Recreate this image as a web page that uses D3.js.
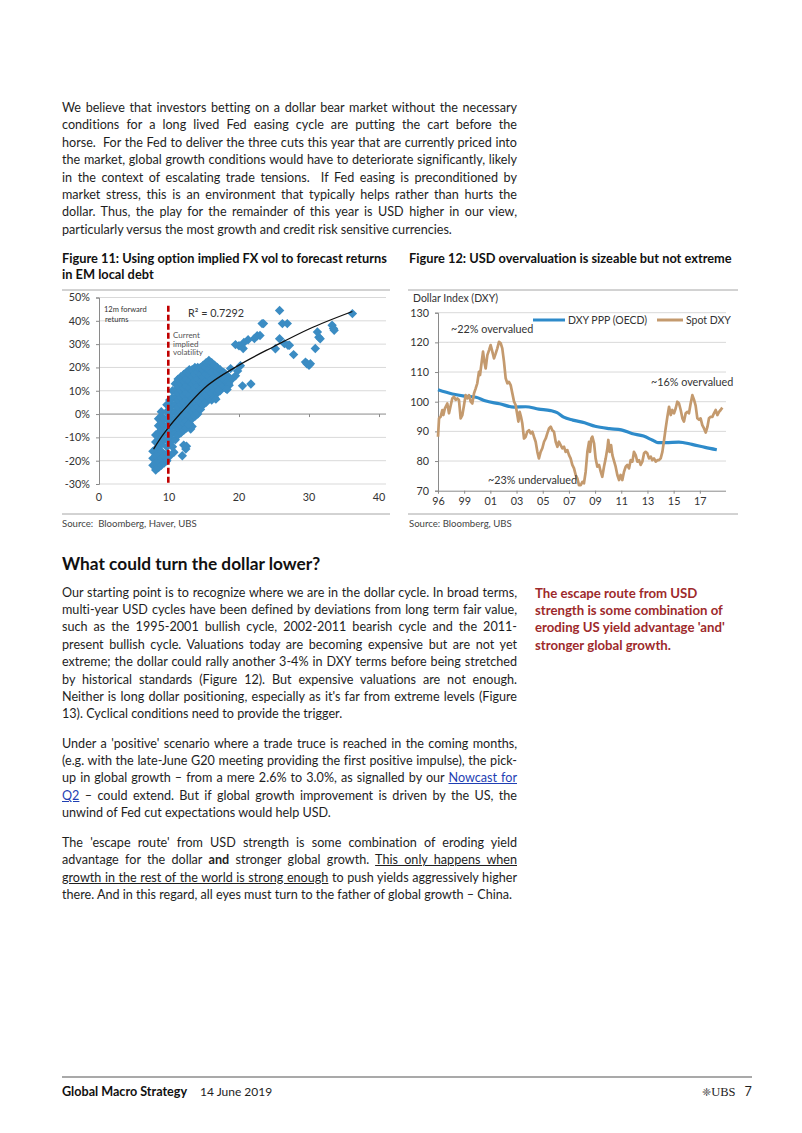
<!DOCTYPE html>
<html><head><meta charset="utf-8">
<script src="https://cdnjs.cloudflare.com/ajax/libs/d3/7.8.5/d3.min.js"></script>
<style>
html,body{margin:0;padding:0;background:#fff;}
#page{position:relative;width:802px;height:1133px;overflow:hidden;font-family:Lato,'Open Sans',sans-serif;color:#1e1e1e;font-variant-ligatures:none;}
.ln{position:absolute;left:62px;width:455px;height:18px;line-height:18px;font-size:12.6px;white-space:nowrap;text-align:justify;text-align-last:justify;}
.ln.last{text-align-last:left;}
.side{position:absolute;left:535px;height:18px;line-height:18px;font-size:13.2px;font-weight:bold;color:#9e2a2b;white-space:nowrap;}
.ttl{position:absolute;height:16px;line-height:16px;font-size:12.8px;font-weight:bold;color:#111;white-space:nowrap;}
.src{position:absolute;font-size:9.6px;color:#444;white-space:pre;line-height:12px;}
a{color:#1f3fb3;text-decoration:underline;}
svg{position:absolute;left:0;top:0;}
svg text{font-family:Lato,'Open Sans',sans-serif;font-variant-ligatures:none;}
</style></head>
<body><div id="page"></div>
<script>
// ---------- TEXT ----------
const para1 = [
 "We believe that investors betting on a dollar bear market without the necessary",
 "conditions for a long lived Fed easing cycle are putting the cart before the",
 "horse.&nbsp; For the Fed to deliver the three cuts this year that are currently priced into",
 "the market, global growth conditions would have to deteriorate significantly, likely",
 "in the context of escalating trade tensions.&nbsp; If Fed easing is preconditioned by",
 "market stress, this is an environment that typically helps rather than hurts the",
 "dollar. Thus, the play for the remainder of this year is USD higher in our view,",
 "particularly versus the most growth and credit risk sensitive currencies."
];
const para2 = [
 "Our starting point is to recognize where we are in the dollar cycle. In broad terms,",
 "multi-year USD cycles have been defined by deviations from long term fair value,",
 "such as the 1995-2001 bullish cycle, 2002-2011 bearish cycle and the 2011-",
 "present bullish cycle. Valuations today are becoming expensive but are not yet",
 "extreme; the dollar could rally another 3-4% in DXY terms before being stretched",
 "by historical standards (Figure 12). But expensive valuations are not enough.",
 "Neither is long dollar positioning, especially as it's far from extreme levels (Figure",
 "13). Cyclical conditions need to provide the trigger."
];
const para3 = [
 "Under a 'positive' scenario where a trade truce is reached in the coming months,",
 "(e.g. with the late-June G20 meeting providing the first positive impulse), the pick-",
 "up in global growth – from a mere 2.6% to 3.0%, as signalled by our <a>Nowcast for</a>",
 "<a>Q2</a> – could extend. But if global growth improvement is driven by the US, the",
 "unwind of Fed cut expectations would help USD."
];
const para4 = [
 "The 'escape route' from USD strength is some combination of eroding yield",
 "advantage for the dollar <b>and</b> stronger global growth. <u>This only happens when</u>",
 "<u>growth in the rest of the world is strong enough</u> to push yields aggressively higher",
 "there. And in this regard, all eyes must turn to the father of global growth – China."
];
const sideNote = ["The escape route from USD","strength is some combination of","eroding US yield advantage 'and'","stronger global growth."];

// ---------- CHART DATA ----------
// Figure 11: implied vol (x) vs 12m forward returns (%)
const scatterCols = [
 [7.7,[-22,-19,-16]],
 [8.1,[-24,-21,-18,-15,-12,-9]],
 [8.5,[-23,-20,-17,-14,-11,-8,-5,-2]],
 [8.9,[-22,-19,-16,-13,-10,-7,-4,-1,1]],
 [9.3,[-21,-18,-11,-8,-5,-2]],
 [9.7,[-20,-17,-14,-11,-8,-5,-2,1,4]],
 [10.1,[-18,-12,-9,-6,-3,0,3,6]],
 [10.5,[-14,-11,-8,-5,-2,1,4,7,10]],
 [10.9,[-11,-8,-5,-2,1,4,7,10,13]],
 [11.3,[-9,-6,-3,0,3,6,9,12,15]],
 [11.7,[-8,-5,-2,1,4,7,10,13,16]],
 [12.1,[-7,-4,-1,2,5,8,11,14,17]],
 [12.5,[-6,-3,0,3,6,9,12,15,18]],
 [12.9,[-4,-1,2,5,8,11,14,17,19]],
 [13.3,[-2,1,4,7,10,13,16,19]],
 [13.7,[-1,2,5,8,11,14,17,20]],
 [14.1,[0,3,6,9,12,15,18,20]],
 [14.5,[2,5,8,11,14,17,20]],
 [14.9,[4,7,10,13,16,19,21]],
 [15.3,[5,8,11,14,17,20,22]],
 [15.7,[7,10,13,16,19,22,23]],
 [16.1,[6,9,12,15,18,21,22]],
 [16.5,[7,10,13,16,19,21]],
 [16.9,[9,12,15,18,20]],
 [17.3,[10,13,16,19]],
 [17.7,[12,15,18]],
 [18.1,[11,14,17]],
 [18.5,[13,16]]
];
const scatterOutliers = [
 [25.8,44.4],[36.2,43.1],[23.5,38.8],[23.3,38.8],[26.2,38.8],[26.9,38.8],[22.6,33.6],[23.0,33.7],[22.2,32.4],
 [21.3,31.9],[20.7,30.7],[20.0,29.3],[19.5,29.8],[20.6,28.1],[25.8,32.3],[25.2,28.0],[26.5,30.2],[27.0,29.5],
 [27.2,29.5],[27.8,25.5],[30.9,28.1],[31.2,35.2],[31.4,33.0],[31.6,32.3],[33.3,38.1],[33.5,36.7],[33.6,35.9],
 [29.5,22.3],[30.0,20.9],[30.2,21.6],[29.7,21.6],[20.2,20.7],[20.5,12.1],[21.7,12.9],[18.6,12.4],[19.0,15.0],
 [19.5,16.4],[17.9,17.6],[17.6,15.7],[17.1,10.0],[16.7,6.4],[18.3,10.5],[13.1,-6.4],[13.3,-5.3],[12.8,-4.5],
 [12.4,-15.0],[11.9,-17.9],[12.1,-13.3],[12.5,-13.8],[10.7,-16.4],[19.8,18.5],[18.8,19.5]
];
const trendLine = [[7.8,-15],[9,-9.5],[10,-5.5],[12,1.5],[15,11],[20,21],[25,29],[30,36.5],[36.2,44]];
const currentVol = 9.9;
const scatterYTicks = [-30,-20,-10,0,10,20,30,40,50];
const scatterXTicks = [0,10,20,30,40];

// Figure 12: Dollar index
const pppDXY = [
 [1997.0,104.0],[1998.1,102.6],[1999.0,101.9],[1999.9,101.5],[2000.6,100.3],[2001.7,99.3],[2002.8,98.2],
 [2003.7,98.3],[2004.7,97.5],[2005.6,97.0],[2006.1,96.3],[2006.6,94.8],[2007.3,93.8],[2008.2,92.9],
 [2009.0,91.7],[2010.1,90.9],[2011.0,90.5],[2011.8,89.3],[2012.7,88.4],[2013.4,87.0],[2013.8,86.2],
 [2014.4,86.2],[2015.4,86.4],[2016.4,85.6],[2017.4,84.6],[2018.3,83.8]
];
const spotDXY = [
 [1997.00,88.2],[1997.08,94.4],[1997.20,94.9],[1997.33,97.2],[1997.41,95.5],[1997.53,97.8],[1997.71,99.4],
 [1997.84,96.1],[1997.97,98.7],[1998.09,101.1],[1998.22,101.7],[1998.35,100.6],[1998.48,101.1],[1998.60,100.6],
 [1998.73,94.4],[1998.86,95.5],[1998.99,98.9],[1999.11,102.2],[1999.24,101.1],[1999.37,102.2],[1999.50,100.0],
 [1999.62,99.4],[1999.75,102.8],[1999.88,104.5],[2000.00,106.2],[2000.13,110.1],[2000.21,109.0],[2000.34,113.5],
 [2000.44,116.9],[2000.54,113.5],[2000.64,111.2],[2000.77,115.7],[2000.90,117.4],[2001.02,119.1],[2001.15,116.9],
 [2001.28,114.6],[2001.41,116.3],[2001.53,118.0],[2001.66,120.2],[2001.79,119.7],[2001.91,118.0],[2002.04,113.5],
 [2002.17,107.9],[2002.30,106.2],[2002.42,106.7],[2002.55,105.6],[2002.68,102.8],[2002.81,100.0],[2002.93,98.9],
 [2003.06,95.5],[2003.14,93.3],[2003.24,96.6],[2003.34,94.9],[2003.44,92.7],[2003.57,87.6],[2003.70,88.2],
 [2003.82,89.9],[2003.95,90.4],[2004.08,89.3],[2004.21,89.9],[2004.33,88.2],[2004.46,86.5],[2004.59,83.1],
 [2004.71,80.9],[2004.84,83.1],[2004.97,84.3],[2005.10,86.5],[2005.23,87.6],[2005.35,89.3],[2005.48,91.0],
 [2005.61,91.6],[2005.73,90.4],[2005.86,89.9],[2005.99,86.5],[2006.12,84.8],[2006.24,86.5],[2006.37,85.4],
 [2006.50,84.3],[2006.63,84.8],[2006.75,83.1],[2006.88,83.7],[2007.01,82.0],[2007.13,80.9],[2007.26,78.7],
 [2007.39,77.5],[2007.52,75.3],[2007.64,74.2],[2007.77,71.9],[2007.90,71.9],[2008.03,73.0],[2008.15,72.5],
 [2008.28,76.4],[2008.41,83.1],[2008.54,86.5],[2008.61,83.1],[2008.71,87.6],[2008.79,88.2],[2008.92,86.0],
 [2009.04,80.9],[2009.17,78.1],[2009.30,78.7],[2009.43,76.4],[2009.55,74.7],[2009.68,78.1],[2009.81,80.9],
 [2009.94,84.3],[2010.01,87.1],[2010.11,83.1],[2010.22,85.4],[2010.32,82.0],[2010.45,80.0],[2010.57,78.1],
 [2010.70,75.3],[2010.83,73.6],[2010.95,75.3],[2011.08,73.6],[2011.21,76.4],[2011.34,78.1],[2011.46,78.7],
 [2011.59,77.5],[2011.72,80.3],[2011.85,79.8],[2011.97,83.1],[2012.10,82.0],[2012.23,79.8],[2012.36,80.3],
 [2012.48,78.7],[2012.61,79.8],[2012.74,82.6],[2012.86,83.1],[2012.99,82.6],[2013.12,80.9],[2013.25,81.5],
 [2013.37,80.3],[2013.50,80.9],[2013.63,79.8],[2013.76,80.3],[2013.88,80.3],[2014.01,80.9],[2014.14,83.1],
 [2014.27,87.1],[2014.39,91.0],[2014.52,94.9],[2014.65,98.3],[2014.78,95.5],[2014.90,97.2],[2015.03,96.1],
 [2015.16,97.8],[2015.28,100.0],[2015.41,99.4],[2015.54,97.2],[2015.67,94.4],[2015.79,93.3],[2015.92,96.1],
 [2016.05,96.6],[2016.17,96.1],[2016.30,99.4],[2016.43,102.2],[2016.56,100.6],[2016.68,98.7],[2016.81,94.4],
 [2016.94,93.9],[2017.06,94.4],[2017.19,92.1],[2017.32,91.0],[2017.45,89.6],[2017.58,91.5],[2017.70,94.4],
 [2017.83,94.9],[2017.96,94.9],[2018.08,96.1],[2018.21,97.2],[2018.34,95.5],[2018.47,96.6],[2018.59,97.2],
 [2018.72,98.0]
];
const dxyYTicks = [70,80,90,100,110,120,130];
const dxyXTickYears = [1997,1999,2001,2003,2005,2007,2009,2011,2013,2015,2017];
const dxyXTickLabels = ["96","99","01","03","05","07","09","11","13","15","17"];
const seriesNames = ["DXY PPP (OECD)","Spot DXY"];
const seriesColors = ["#2e8bca","#c49a6e"];

// ---------- BUILD TEXT ----------
const page = d3.select('#page');
function addPara(lines, c0, step){
  lines.forEach((t,i)=>{
    const el = page.append('div').attr('class','ln'+(i===lines.length-1?' last':''))
      .style('top',(c0+i*step-9)+'px').html(t);
    const node = el.node();
    node.style.width='auto'; node.style.textAlignLast='left';
    const w = node.getBoundingClientRect().width;
    node.style.width=''; node.style.textAlignLast='';
    if (w > 455) node.style.letterSpacing = (-(w-455)/node.textContent.length).toFixed(3)+'px';
  });
}
addPara(para1,108,17.4);
addPara(para2,592.5,17.4);
addPara(para3,743.5,17.4);
addPara(para4,843,17.4);
sideNote.forEach((t,i)=>page.append('div').attr('class','side').style('top',(592.5+i*17.4-9)+'px').text(t));
page.append('div').style('position','absolute').style('left','62px').style('top','552px')
  .style('font-size','17.3px').style('font-weight','bold').style('color','#111').style('line-height','24px')
  .text('What could turn the dollar lower?');
page.append('div').attr('class','ttl').style('left','62px').style('top','250px').text('Figure 11: Using option implied FX vol to forecast returns');
page.append('div').attr('class','ttl').style('left','62px').style('top','266px').text('in EM local debt');
page.append('div').attr('class','ttl').style('left','409px').style('top','250px').text('Figure 12: USD overvaluation is sizeable but not extreme');
page.append('div').attr('class','src').style('left','62px').style('top','518px').text('Source:  Bloomberg, Haver, UBS');
page.append('div').attr('class','src').style('left','409px').style('top','518px').text('Source: Bloomberg, UBS');
// footer
page.append('div').style('position','absolute').style('left','62px').style('top','1084px').style('font-size','12.6px')
  .style('line-height','16px').style('white-space','nowrap')
  .html('<b style="color:#111">Global Macro Strategy</b><span style="position:absolute;left:138px;font-size:12px">14 June 2019</span>');
page.append('div').style('position','absolute').style('left','702px').style('top','1084px').style('font-size','12.6px')
  .style('line-height','16px').style('white-space','nowrap')
  .html('<span style="font-family:\'DejaVu Sans\';font-size:11px;color:#444">❈</span><span style="font-family:\'Liberation Serif\';font-size:12.5px;color:#222">UBS</span><span style="margin-left:9px">7</span>');

// ---------- SVG ----------
const svg = page.append('svg').attr('width',802).attr('height',1133);
[[62,390,290],[62,390,514],[408,738,290],[408,738,514]].forEach(r=>{
  svg.append('line').attr('x1',r[0]).attr('x2',r[1]).attr('y1',r[2]).attr('y2',r[2]).attr('stroke','#a6a6a6').attr('stroke-width',1);
});
svg.append('line').attr('x1',62).attr('x2',752).attr('y1',1077).attr('y2',1077).attr('stroke','#555').attr('stroke-width',1.2);

// ---- Figure 11 scatter ----
const gS = svg.append('g');
const xS = d3.scaleLinear().domain([0,40]).range([99,379]);
const yS = d3.scaleLinear().domain([-30,50]).range([484,297.5]);
gS.append('g').selectAll('line').data(scatterYTicks).join('line')
  .attr('x1',99).attr('x2',386).attr('y1',d=>yS(d)).attr('y2',d=>yS(d))
  .attr('stroke',d=>d===0?'#8a8a8a':'#d9d9d9').attr('stroke-width',1);
const yAxS = gS.append('g').attr('transform','translate(99,0)')
  .call(d3.axisLeft(yS).tickValues(scatterYTicks).tickFormat(d=>d+'%').tickSize(3).tickPadding(6));
yAxS.select('.domain').attr('stroke','#8a8a8a');
yAxS.selectAll('.tick line').attr('stroke','#8a8a8a');
yAxS.selectAll('text').attr('font-size',10.8).attr('fill','#333').attr('font-family','Lato, Open Sans, sans-serif');
const xAxS = gS.append('g').attr('transform',`translate(0,${yS(0)})`)
  .call(d3.axisBottom(xS).tickValues(scatterXTicks).tickFormat('').tickSize(3));
xAxS.select('.domain').remove();
xAxS.selectAll('.tick line').attr('stroke','#8a8a8a');
gS.append('g').selectAll('text').data(scatterXTicks).join('text')
  .attr('x',d=>xS(d)).attr('y',yS(-30)+17).attr('text-anchor','middle')
  .attr('font-size',10.8).attr('fill','#333').text(d=>d);
const scatterPts = scatterCols.flatMap(c=>c[1].map(v=>[c[0],v])).concat(scatterOutliers);
const diamond = d3.symbol(d3.symbolSquare, 44)();
gS.append('g').selectAll('path').data(scatterPts).join('path')
  .attr('d',diamond).attr('transform',d=>`translate(${xS(d[0])},${yS(d[1])}) rotate(45)`)
  .attr('fill','#3b8cc3');
gS.append('path').datum(trendLine)
  .attr('d',d3.line().x(d=>xS(d[0])).y(d=>yS(d[1])).curve(d3.curveMonotoneX))
  .attr('fill','none').attr('stroke','#111').attr('stroke-width',1.3);
gS.append('line').attr('x1',xS(currentVol)).attr('x2',xS(currentVol)).attr('y1',yS(46.5)).attr('y2',yS(-30))
  .attr('stroke','#c00000').attr('stroke-width',2.6).attr('stroke-dasharray','6,3');
gS.append('text').attr('x',104).attr('y',312).attr('font-size',7.5).attr('fill','#333').text('12m forward');
gS.append('text').attr('x',105).attr('y',322).attr('font-size',7.5).attr('fill','#333').text('returns');
gS.append('text').attr('x',188).attr('y',317).attr('font-size',10.8).attr('fill','#333').text('R² = 0.7292');
['Current','implied','volatility'].forEach((t,i)=>gS.append('text').attr('x',173).attr('y',338+i*8.6)
  .attr('font-size',8).attr('fill','#555').text(t));

// ---- Figure 12 lines ----
const gL = svg.append('g');
const xL = d3.scaleLinear().domain([1997,2019]).range([438,726]);
const yL = d3.scaleLinear().domain([70,130]).range([490.7,312.7]);
gL.append('g').selectAll('line').data(dxyYTicks.slice(1)).join('line')
  .attr('x1',438).attr('x2',726).attr('y1',d=>yL(d)).attr('y2',d=>yL(d))
  .attr('stroke','#d9d9d9').attr('stroke-width',1);
const yAxL = gL.append('g').attr('transform','translate(438,0)')
  .call(d3.axisLeft(yL).tickValues(dxyYTicks).tickSize(3).tickPadding(6));
yAxL.select('.domain').attr('stroke','#8a8a8a');
yAxL.selectAll('.tick line').attr('stroke','#8a8a8a');
yAxL.selectAll('text').attr('font-size',10.8).attr('fill','#333').attr('font-family','Lato, Open Sans, sans-serif');
const xAxL = gL.append('g').attr('transform',`translate(0,${yL(70)})`)
  .call(d3.axisBottom(xL).tickValues(dxyXTickYears).tickFormat((d,i)=>dxyXTickLabels[i]).tickSize(3).tickPadding(4));
xAxL.select('.domain').attr('stroke','#8a8a8a').attr('d','M438,0.5H726');
xAxL.selectAll('.tick line').attr('stroke','#8a8a8a');
xAxL.selectAll('text').attr('font-size',10.8).attr('fill','#333').attr('font-family','Lato, Open Sans, sans-serif');
const lineL = d3.line().x(d=>xL(d[0])).y(d=>yL(d[1]));
gL.append('path').datum(pppDXY).attr('d',lineL.curve(d3.curveMonotoneX)).attr('fill','none')
  .attr('stroke',seriesColors[0]).attr('stroke-width',3.2);
gL.append('path').datum(spotDXY).attr('d',d3.line().x(d=>xL(d[0])).y(d=>yL(d[1]))).attr('fill','none')
  .attr('stroke',seriesColors[1]).attr('stroke-width',2.7).attr('stroke-linejoin','round');
[[533,565,568],[657,683,686]].forEach((p,i)=>{
  gL.append('line').attr('x1',p[0]).attr('x2',p[1]).attr('y1',320).attr('y2',320).attr('stroke',seriesColors[i]).attr('stroke-width',3);
  gL.append('text').attr('x',p[2]).attr('y',323.8).attr('font-size',10.5).attr('fill','#333').text(seriesNames[i]);
});
gL.append('text').attr('x',413).attr('y',302).attr('font-size',10.5).attr('fill','#333').text('Dollar Index (DXY)');
gL.append('text').attr('x',451).attr('y',333).attr('font-size',10.8).attr('fill','#333').text('~22% overvalued');
gL.append('text').attr('x',651).attr('y',386).attr('font-size',10.8).attr('fill','#333').text('~16% overvalued');
gL.append('text').attr('x',488).attr('y',484).attr('font-size',10.8).attr('fill','#333').text('~23% undervalued');
</script>
</body></html>
